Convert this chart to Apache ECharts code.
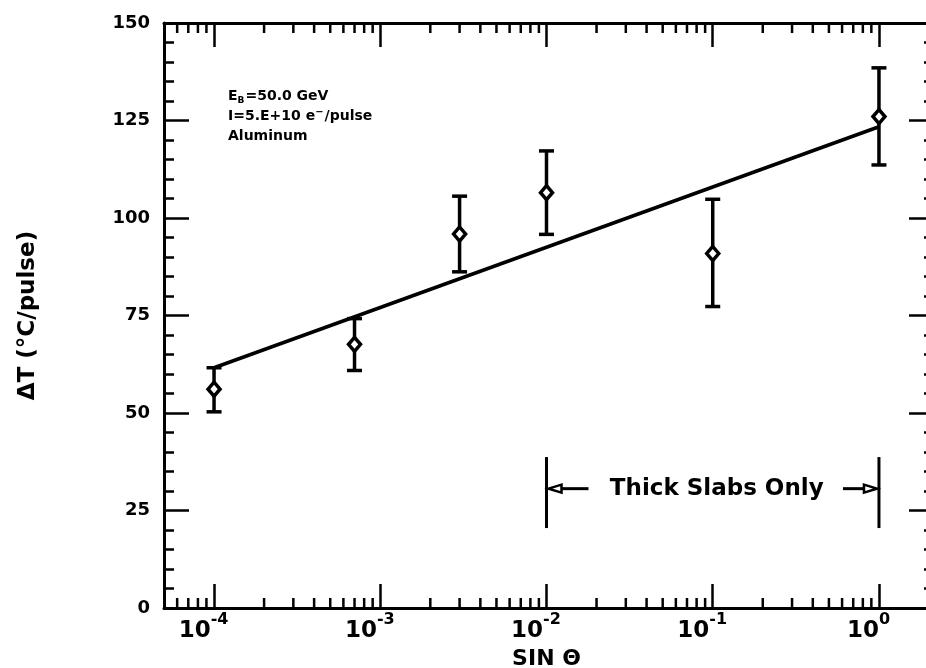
<!DOCTYPE html>
<html>
<head>
<meta charset="utf-8">
<script src="https://cdn.jsdelivr.net/npm/echarts@6/dist/echarts.min.js"></script>
<style>
  html, body { margin: 0; padding: 0; background: #fff; }
  #chart { width: 926px; height: 668px; }
</style>
</head>
<body>
<div id="chart"></div>
<script>
// Temperature rise per pulse against sin(theta), aluminum target
const sinTheta = [1e-4, 7e-4, 3e-3, 1e-2, 1e-1, 1];
const deltaT   = [56.1, 67.6, 95.9, 106.5, 90.9, 126.0];
const errLow   = [50.3, 60.9, 86.2, 95.8, 77.3, 113.6];
const errHigh  = [61.6, 74.2, 105.6, 117.2, 104.8, 138.5];

// Fitted trend, straight in log(sin theta)
const fitX = [1e-4, 1];
const fitY = [61.6, 123.4];

// Axis ranges and ticks
const xRange = [5e-5, 2];
const yRange = [0, 150];
const yStep = 25;
const decadeExps = [-5, -4, -3, -2, -1, 0];
const minorMantissas = [2, 3, 4, 5, 6, 7, 8, 9];

// "Thick Slabs Only" bracket: x span, arrow level, vertical extent
const slabSpan = [1e-2, 1];
const slabLevel = 30.6;
const slabBar = [20.5, 38.7];
const slabText = 'Thick Slabs Only';

const infoLines = [
  '{t|E}{sub|B}{t|=50.0 GeV}',
  '{t|I=5.E+10 e}{sup|−}{t|/pulse}',
  '{t|Aluminum}'
];

const FONT = '"DejaVu Sans", "Liberation Sans", sans-serif';

// minor tick positions 2..9 x 10^n inside the axis range
const minorTicks = [];
decadeExps.forEach(e => {
  minorMantissas.forEach(m => {
    const v = m * Math.pow(10, e);
    if (v > xRange[0] * 1.0001 && v < xRange[1] * 0.9999) minorTicks.push(v);
  });
});

const chart = echarts.init(document.getElementById('chart'), null, { renderer: 'canvas' });

// decade labels written as 10 with a raised exponent
const xLabelFmt = function (value) {
  const lg = Math.log10(value);
  const e = Math.round(lg);
  if (Math.abs(lg - e) > 1e-6) return '';
  return '{b|10}{s|' + (e < 0 ? '-' + (-e) : e) + '}';
};

const baseX = {
  type: 'log',
  logBase: 10,
  min: xRange[0],
  max: xRange[1],
  splitNumber: 5,
  axisLine: { show: true, onZero: false, lineStyle: { color: '#000', width: 3 } },
  axisTick: { show: true, inside: true, length: 24, lineStyle: { color: '#000', width: 2.5 } },
  minorTick: { show: false },
  splitLine: { show: false },
  minorSplitLine: { show: false }
};

const baseY = {
  type: 'value',
  min: yRange[0],
  max: yRange[1],
  interval: yStep,
  axisLine: { show: true, onZero: false, lineStyle: { color: '#000', width: 3 } },
  axisTick: { show: true, inside: true, length: 25, lineStyle: { color: '#000', width: 2.5 } },
  minorTick: { show: true, splitNumber: 5, length: 10, lineStyle: { color: '#000', width: 2.5 } },
  splitLine: { show: false }
};

const option = {
  animation: false,
  backgroundColor: '#fff',
  grid: {
    left: 164, top: 23, width: 765, height: 585,
    outerBoundsMode: 'none', containLabel: false
  },
  xAxis: [
    Object.assign({}, baseX, {
      position: 'bottom',
      name: 'SIN Θ',
      nameLocation: 'middle',
      nameGap: 36,
      nameTextStyle: { fontFamily: FONT, fontSize: 22, fontWeight: 'bold', color: '#000' },
      axisLabel: {
        show: true,
        margin: 4,
        padding: [0, 21, 0, 0],
        showMinLabel: false,
        showMaxLabel: false,
        formatter: xLabelFmt,
        rich: {
          b: { fontFamily: FONT, fontSize: 23, fontWeight: 'bold', color: '#000', lineHeight: 31, verticalAlign: 'bottom' },
          s: { fontFamily: FONT, fontSize: 16, fontWeight: 'bold', color: '#000', lineHeight: 31, verticalAlign: 'top' }
        }
      }
    }),
    Object.assign({}, baseX, {
      position: 'top',
      axisLabel: { show: false }
    })
  ],
  yAxis: [
    Object.assign({}, baseY, {
      position: 'left',
      name: 'ΔT (°C/pulse)',
      nameLocation: 'middle',
      nameRotate: 90,
      nameGap: 124,
      nameTextStyle: { fontFamily: FONT, fontSize: 23, fontWeight: 'bold', color: '#000' },
      axisLabel: {
        show: true, margin: 14,
        fontFamily: FONT, fontSize: 18, fontWeight: 'bold', color: '#000'
      }
    }),
    Object.assign({}, baseY, {
      position: 'right',
      axisLabel: { show: false },
      axisTick: { show: true, inside: true, length: 20, lineStyle: { color: '#000', width: 2.5 } },
      minorTick: { show: true, splitNumber: 5, length: 5, lineStyle: { color: '#000', width: 2.5 } }
    })
  ],
  graphic: [
    {
      type: 'text',
      left: 228,
      top: 88,
      style: {
        text: infoLines.join('\n'),
        rich: {
          t: { fontFamily: FONT, fontSize: 14, fontWeight: 'bold', fill: '#000', lineHeight: 20 },
          sub: { fontFamily: FONT, fontSize: 9, fontWeight: 'bold', fill: '#000', lineHeight: 20, padding: [8, 1, 0, 0] },
          sup: { fontFamily: FONT, fontSize: 10, fontWeight: 'bold', fill: '#000', lineHeight: 20, padding: [0, 1, 9, 0] }
        }
      }
    }
  ],
  series: [
    {
      // log-decade minor ticks on bottom and top axes
      type: 'custom',
      silent: true,
      xAxisIndex: 0, yAxisIndex: 0,
      clip: false,
      z: 5,
      data: minorTicks.map(v => [v, yRange[0]]),
      renderItem: function (params, api) {
        const v = api.value(0);
        const b = api.coord([v, yRange[0]]);
        const t = api.coord([v, yRange[1]]);
        const st = { stroke: '#000', lineWidth: 2.5 };
        return {
          type: 'group',
          children: [
            { type: 'line', shape: { x1: b[0], y1: b[1], x2: b[0], y2: b[1] - 10 }, style: st },
            { type: 'line', shape: { x1: t[0], y1: t[1], x2: t[0], y2: t[1] + 10 }, style: st }
          ]
        };
      }
    },
    {
      type: 'line',
      xAxisIndex: 0, yAxisIndex: 0,
      data: fitX.map((x, i) => [x, fitY[i]]),
      symbol: 'none',
      lineStyle: { color: '#000', width: 3.5 },
      z: 3
    },
    {
      // error bars
      type: 'custom',
      xAxisIndex: 0, yAxisIndex: 0,
      z: 4,
      data: sinTheta.map((x, i) => [x, errLow[i], errHigh[i]]),
      renderItem: function (params, api) {
        const lo = api.coord([api.value(0), api.value(1)]);
        const hi = api.coord([api.value(0), api.value(2)]);
        const w = 7.5;
        const st = { stroke: '#000', lineWidth: 3.5 };
        return {
          type: 'group',
          children: [
            { type: 'line', shape: { x1: lo[0], y1: lo[1], x2: hi[0], y2: hi[1] }, style: st },
            { type: 'line', shape: { x1: lo[0] - w, y1: lo[1], x2: lo[0] + w, y2: lo[1] }, style: st },
            { type: 'line', shape: { x1: hi[0] - w, y1: hi[1], x2: hi[0] + w, y2: hi[1] }, style: st }
          ]
        };
      }
    },
    {
      type: 'scatter',
      xAxisIndex: 0, yAxisIndex: 0,
      z: 6,
      data: sinTheta.map((x, i) => [x, deltaT[i]]),
      symbol: 'diamond',
      symbolSize: [12, 14],
      itemStyle: { color: '#fff', borderColor: '#000', borderWidth: 3.5, opacity: 1 }
    },
    {
      // bracket marking the thick-slab region
      type: 'custom',
      xAxisIndex: 0, yAxisIndex: 0,
      z: 4,
      data: [[slabSpan[0], slabSpan[1], slabLevel, slabBar[0], slabBar[1]]],
      renderItem: function (params, api) {
        const a = api.coord([api.value(0), api.value(2)]);
        const b = api.coord([api.value(1), api.value(2)]);
        const yLo = api.coord([api.value(0), api.value(3)])[1];
        const yHi = api.coord([api.value(0), api.value(4)])[1];
        const y = a[1];
        const st = { stroke: '#000', lineWidth: 3 };
        const head = { stroke: '#000', lineWidth: 2.5, fill: '#fff' };
        return {
          type: 'group',
          children: [
            { type: 'line', shape: { x1: a[0], y1: yHi, x2: a[0], y2: yLo }, style: st },
            { type: 'line', shape: { x1: b[0], y1: yHi, x2: b[0], y2: yLo }, style: st },
            { type: 'line', shape: { x1: a[0] + 14, y1: y, x2: a[0] + 42, y2: y }, style: st },
            { type: 'line', shape: { x1: b[0] - 36, y1: y, x2: b[0] - 14, y2: y }, style: st },
            { type: 'polygon', shape: { points: [[a[0] + 2, y], [a[0] + 15, y - 4], [a[0] + 15, y + 4]] }, style: head },
            { type: 'polygon', shape: { points: [[b[0] - 2, y], [b[0] - 15, y - 4], [b[0] - 15, y + 4]] }, style: head },
            {
              type: 'text',
              x: (a[0] + b[0]) / 2 + 4, y: y,
              style: {
                text: slabText, fill: '#000',
                font: 'bold 23px ' + FONT,
                align: 'center', verticalAlign: 'middle'
              }
            }
          ]
        };
      }
    }
  ]
};

chart.setOption(option);
</script>
</body>
</html>
